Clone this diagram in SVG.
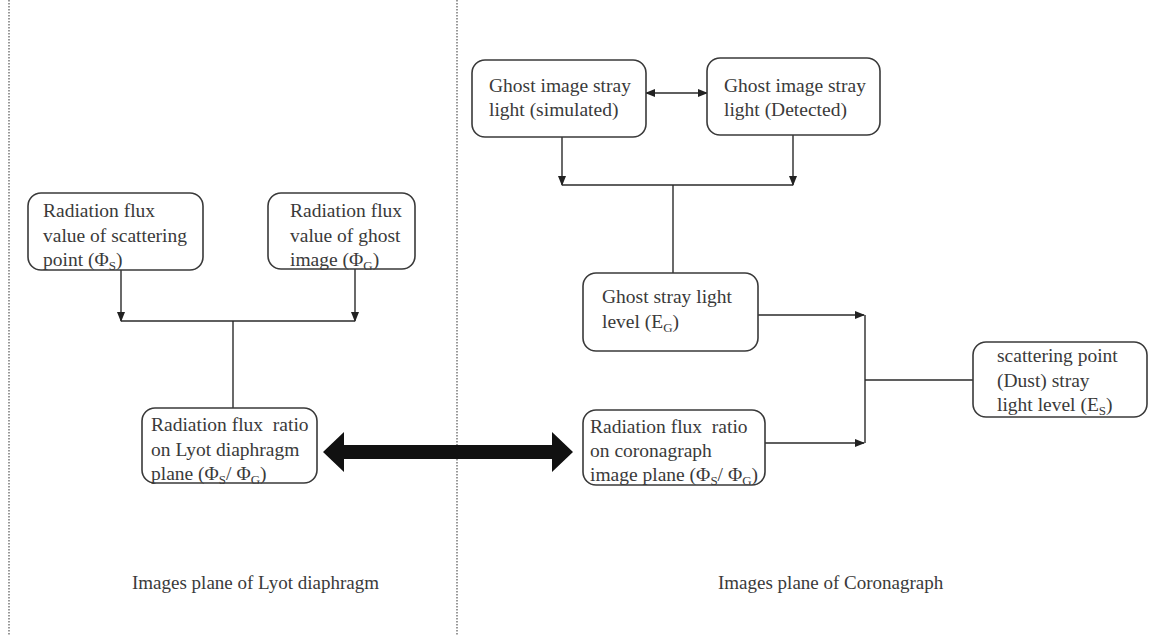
<svg xmlns="http://www.w3.org/2000/svg" width="1161" height="636" viewBox="0 0 1161 636">
<style>
.box{fill:#fff;stroke:#3a3a3a;stroke-width:1.6}
.t{font-family:"Liberation Serif","Times New Roman",serif;font-size:19.5px;fill:#3a3a3a;white-space:pre}
.c{font-size:19px}
.s{font-size:13px}
.ln{stroke:#2a2a2a;stroke-width:1.4;fill:none}
.dot{stroke:#555;stroke-width:1.2;stroke-dasharray:1.5 1.5;fill:none}
</style>
<defs>
<marker id="ah" markerWidth="10" markerHeight="10" refX="9" refY="5" orient="auto" markerUnits="userSpaceOnUse">
<path d="M0,1 L10,5 L0,9 Z" fill="#222"/>
</marker>
<marker id="ahs" markerWidth="10" markerHeight="10" refX="1" refY="5" orient="auto" markerUnits="userSpaceOnUse">
<path d="M10,1 L0,5 L10,9 Z" fill="#222"/>
</marker>
</defs>
<rect width="1161" height="636" fill="#fff"/>
<g id="dividers">
<line class="dot" x1="9" y1="0" x2="9" y2="636"/>
<line class="dot" x1="457" y1="0" x2="457" y2="636"/>
</g>
<g id="connectors">
<line class="ln" x1="121" y1="270" x2="121" y2="321" marker-end="url(#ah)"/>
<line class="ln" x1="355" y1="269" x2="355" y2="321" marker-end="url(#ah)"/>
<line class="ln" x1="121" y1="321" x2="355" y2="321"/>
<line class="ln" x1="233" y1="321" x2="233" y2="408"/>
<line class="ln" x1="646" y1="93" x2="707" y2="93" marker-start="url(#ahs)" marker-end="url(#ah)"/>
<line class="ln" x1="562" y1="137" x2="562" y2="185" marker-end="url(#ah)"/>
<line class="ln" x1="793" y1="135" x2="793" y2="185" marker-end="url(#ah)"/>
<line class="ln" x1="562" y1="185" x2="793" y2="185"/>
<line class="ln" x1="673" y1="185" x2="673" y2="273"/>
<line class="ln" x1="758" y1="315" x2="864" y2="315" marker-end="url(#ah)"/>
<line class="ln" x1="765" y1="443" x2="864" y2="443" marker-end="url(#ah)"/>
<line class="ln" x1="865" y1="315" x2="865" y2="443"/>
<line class="ln" x1="865" y1="380" x2="973" y2="380"/>
<path d="M323,452 L344,432 L344,445 L552,445 L552,432 L573,452 L552,472 L552,459 L344,459 L344,472 Z" fill="#111"/>
</g>
<g id="n_scatter">
<rect class="box" x="28" y="193" width="175" height="77" rx="13"/>
<text class="t" x="43" y="217">Radiation flux</text>
<text class="t" x="43" y="242">value of scattering</text>
<text class="t" x="43" y="266">point (Φ<tspan class="s" dy="4">S</tspan><tspan dy="-4">)</tspan></text>
</g>
<g id="n_ghostval">
<rect class="box" x="268" y="193" width="147" height="76" rx="13"/>
<text class="t" x="290" y="217">Radiation flux</text>
<text class="t" x="290" y="242">value of ghost</text>
<text class="t" x="290" y="266">image (Φ<tspan class="s" dy="4">G</tspan><tspan dy="-4">)</tspan></text>
</g>
<g id="n_lyot">
<rect class="box" x="142" y="408" width="175" height="75" rx="13"/>
<text class="t" x="151" y="431">Radiation flux  ratio</text>
<text class="t" x="151" y="456">on Lyot diaphragm</text>
<text class="t" x="151" y="480">plane (Φ<tspan class="s" dy="4">S</tspan><tspan dy="-4">/ Φ</tspan><tspan class="s" dy="4">G</tspan><tspan dy="-4">)</tspan></text>
</g>
<g id="n_sim">
<rect class="box" x="472" y="60" width="174" height="77" rx="13"/>
<text class="t" x="489" y="92">Ghost image stray</text>
<text class="t" x="489" y="116">light (simulated)</text>
</g>
<g id="n_det">
<rect class="box" x="707" y="58" width="173" height="77" rx="13"/>
<text class="t" x="724" y="92">Ghost image stray</text>
<text class="t" x="724" y="116">light (Detected)</text>
</g>
<g id="n_ghostlevel">
<rect class="box" x="583" y="273" width="175" height="78" rx="13"/>
<text class="t" x="602" y="303">Ghost stray light</text>
<text class="t" x="602" y="328">level (E<tspan class="s" dy="4">G</tspan><tspan dy="-4">)</tspan></text>
</g>
<g id="n_coro">
<rect class="box" x="583" y="410" width="182" height="75" rx="13"/>
<text class="t" x="590" y="433">Radiation flux  ratio</text>
<text class="t" x="590" y="457">on coronagraph</text>
<text class="t" x="590" y="481">image plane (Φ<tspan class="s" dy="4">S</tspan><tspan dy="-4">/ Φ</tspan><tspan class="s" dy="4">G</tspan><tspan dy="-4">)</tspan></text>
</g>
<g id="n_dust">
<rect class="box" x="973" y="342" width="174" height="75" rx="13"/>
<text class="t" x="997" y="362">scattering point</text>
<text class="t" x="997" y="387">(Dust) stray</text>
<text class="t" x="997" y="411">light level (E<tspan class="s" dy="4">S</tspan><tspan dy="-4">)</tspan></text>
</g>
<g id="labels">
<text class="t c" x="132" y="589">Images plane of Lyot diaphragm</text>
<text class="t c" x="718" y="589">Images plane of Coronagraph</text>
</g>
</svg>
